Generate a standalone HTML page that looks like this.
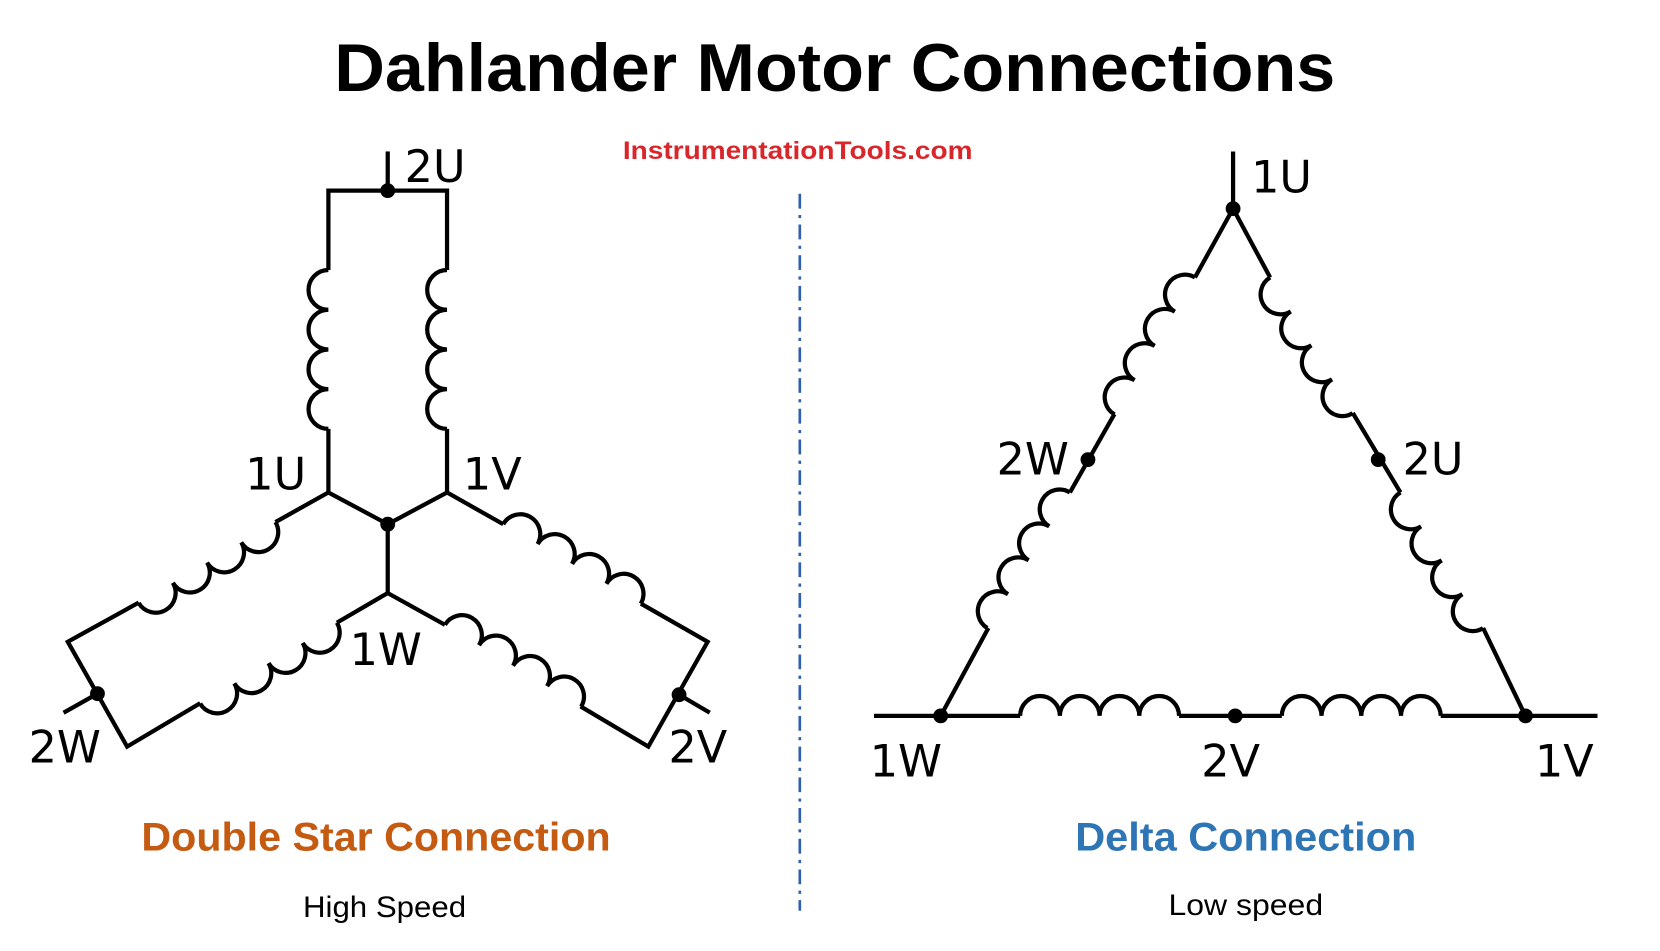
<!DOCTYPE html>
<html><head><meta charset="utf-8"><style>
html,body{margin:0;padding:0;background:#fff;}
svg{display:block;}
</style></head><body>
<svg width="1660" height="951" viewBox="0 0 1567 898" preserveAspectRatio="none" xmlns="http://www.w3.org/2000/svg">
<rect width="1567" height="898" fill="#fff"/>
<text x="788" y="86" text-anchor="middle" font-family="Liberation Sans, sans-serif" font-weight="bold" font-size="64" textLength="945" lengthAdjust="spacingAndGlyphs">Dahlander Motor Connections</text>
<text x="753" y="150" text-anchor="middle" font-family="Liberation Sans, sans-serif" font-weight="bold" font-size="24" fill="#d9262b" textLength="330" lengthAdjust="spacingAndGlyphs">InstrumentationTools.com</text>
<line x1="755" y1="183" x2="755" y2="860" stroke="#2e5fb0" stroke-width="2.5" stroke-dasharray="14,6,3,6"/>

<g fill="none" stroke="#000" stroke-width="4" stroke-linejoin="miter">
<polyline points="366,143 366,180"/>
<polyline points="310,255 310,180 422,180 422,255"/>
<polyline points="310,405 310,465 366,495 422,465 422,405"/>
<polyline points="366,495 366,560"/>
<polyline points="310,465 260,493"/>
<polyline points="131,569 64,606 120,705 189,664"/>
<polyline points="366,560 318,588"/>
<polyline points="422,465 475,495"/>
<polyline points="605,570 668,606 612,705 548,667"/>
<polyline points="366,560 420,590"/>
<polyline points="92,655 60,673"/>
<polyline points="641,656 670,673"/>
<path d="M0 0 a18.75 18.75 0 0 1 37.5 0 a18.75 18.75 0 0 1 37.5 0 a18.75 18.75 0 0 1 37.5 0 a18.75 18.75 0 0 1 37.5 0" transform="translate(310,255) rotate(90) scale(1,-1)"/>
<path d="M0 0 a18.75 18.75 0 0 1 37.5 0 a18.75 18.75 0 0 1 37.5 0 a18.75 18.75 0 0 1 37.5 0 a18.75 18.75 0 0 1 37.5 0" transform="translate(422,255) rotate(90) scale(1,-1)"/>
<path d="M0 0 a18.75 18.75 0 0 1 37.5 0 a18.75 18.75 0 0 1 37.5 0 a18.75 18.75 0 0 1 37.5 0 a18.75 18.75 0 0 1 37.5 0" transform="translate(260,493) rotate(149.4)"/>
<path d="M0 0 a18.75 18.75 0 0 1 37.5 0 a18.75 18.75 0 0 1 37.5 0 a18.75 18.75 0 0 1 37.5 0 a18.75 18.75 0 0 1 37.5 0" transform="translate(318,588) rotate(149.4)"/>
<path d="M0 0 a18.75 18.75 0 0 1 37.5 0 a18.75 18.75 0 0 1 37.5 0 a18.75 18.75 0 0 1 37.5 0 a18.75 18.75 0 0 1 37.5 0" transform="translate(475,495) rotate(30)"/>
<path d="M0 0 a18.75 18.75 0 0 1 37.5 0 a18.75 18.75 0 0 1 37.5 0 a18.75 18.75 0 0 1 37.5 0 a18.75 18.75 0 0 1 37.5 0" transform="translate(420,590) rotate(31)"/>

<polyline points="1164,143 1164,197 1128,262"/>
<polyline points="1052,391 1010,465"/>
<polyline points="933,593 888,676"/>
<polyline points="1164,197 1199,262"/>
<polyline points="1277,390 1322,465"/>
<polyline points="1400,593 1440,676"/>
<polyline points="825,676 963,676"/>
<polyline points="1113,676 1210,676"/>
<polyline points="1360,676 1508,676"/>
<path d="M0 0 a18.75 18.75 0 0 1 37.5 0 a18.75 18.75 0 0 1 37.5 0 a18.75 18.75 0 0 1 37.5 0 a18.75 18.75 0 0 1 37.5 0" transform="translate(1128,262) rotate(120.4) scale(1,-1)"/>
<path d="M0 0 a18.75 18.75 0 0 1 37.5 0 a18.75 18.75 0 0 1 37.5 0 a18.75 18.75 0 0 1 37.5 0 a18.75 18.75 0 0 1 37.5 0" transform="translate(1010,465) rotate(121.3) scale(1,-1)"/>
<path d="M0 0 a18.75 18.75 0 0 1 37.5 0 a18.75 18.75 0 0 1 37.5 0 a18.75 18.75 0 0 1 37.5 0 a18.75 18.75 0 0 1 37.5 0" transform="translate(1199,262) rotate(58.7) scale(1,-1)"/>
<path d="M0 0 a18.75 18.75 0 0 1 37.5 0 a18.75 18.75 0 0 1 37.5 0 a18.75 18.75 0 0 1 37.5 0 a18.75 18.75 0 0 1 37.5 0" transform="translate(1322,465) rotate(58.7) scale(1,-1)"/>
<path d="M0 0 a18.75 18.75 0 0 1 37.5 0 a18.75 18.75 0 0 1 37.5 0 a18.75 18.75 0 0 1 37.5 0 a18.75 18.75 0 0 1 37.5 0" transform="translate(963,676)"/>
<path d="M0 0 a18.75 18.75 0 0 1 37.5 0 a18.75 18.75 0 0 1 37.5 0 a18.75 18.75 0 0 1 37.5 0 a18.75 18.75 0 0 1 37.5 0" transform="translate(1210,676)"/>
</g>

<g fill="#000">
<circle cx="366" cy="180" r="7"/>
<circle cx="366" cy="495" r="7"/>
<circle cx="92" cy="655" r="7"/>
<circle cx="641" cy="656" r="7"/>
<circle cx="1164" cy="197" r="7"/>
<circle cx="1027" cy="434" r="7"/>
<circle cx="1301" cy="434" r="7"/>
<circle cx="888" cy="676" r="7"/>
<circle cx="1166" cy="676" r="7"/>
<circle cx="1440" cy="676" r="7"/>
</g>

<g font-family="DejaVu Sans, sans-serif" font-size="42" fill="#000">
<text x="382" y="172">2U</text>
<text x="289" y="462" text-anchor="end">1U</text>
<text x="437" y="462">1V</text>
<text x="330" y="628">1W</text>
<text x="27" y="720">2W</text>
<text x="631" y="720">2V</text>
<text x="1181" y="182">1U</text>
<text x="1009" y="448" text-anchor="end">2W</text>
<text x="1324" y="448">2U</text>
<text x="821" y="733">1W</text>
<text x="1134" y="733">2V</text>
<text x="1449" y="733">1V</text>
</g>

<text x="355" y="803" text-anchor="middle" font-family="Liberation Sans, sans-serif" font-weight="bold" font-size="38" fill="#c55a11" textLength="443" lengthAdjust="spacingAndGlyphs">Double Star Connection</text>
<text x="1176" y="803" text-anchor="middle" font-family="Liberation Sans, sans-serif" font-weight="bold" font-size="38" fill="#2e75b6" textLength="322" lengthAdjust="spacingAndGlyphs">Delta Connection</text>
<text x="363" y="866" text-anchor="middle" font-family="Liberation Sans, sans-serif" font-size="28" fill="#000" textLength="154" lengthAdjust="spacingAndGlyphs">High Speed</text>
<text x="1176" y="864" text-anchor="middle" font-family="Liberation Sans, sans-serif" font-size="28" fill="#000" textLength="146" lengthAdjust="spacingAndGlyphs">Low speed</text>
</svg>
</body></html>
